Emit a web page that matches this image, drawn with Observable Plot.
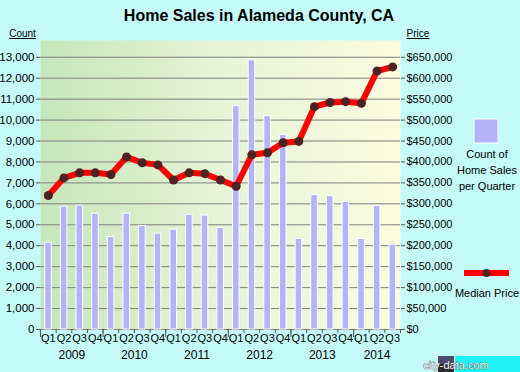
<!DOCTYPE html>
<html>
<head>
<meta charset="utf-8">
<script src="https://cdn.jsdelivr.net/npm/d3@7"></script>
<script src="https://cdn.jsdelivr.net/npm/@observablehq/plot@0.6"></script>
<style>
  html, body { margin: 0; padding: 0; background: #c5fafa; }
  #chart { width: 520px; height: 372px; overflow: hidden; }
  svg { display: block; }
</style>
</head>
<body>
<div id="chart"></div>
<script>
const quarters = ["Q1","Q2","Q3","Q4","Q1","Q2","Q3","Q4","Q1","Q2","Q3","Q4",
                  "Q1","Q2","Q3","Q4","Q1","Q2","Q3","Q4","Q1","Q2","Q3"];
const years = ["2009","2010","2011","2012","2013","2014"];
const counts = [4150, 5870, 5910, 5530, 4420, 5530, 4940, 4580, 4770, 5480, 5440, 4850,
                10660, 12860, 10190, 9280, 4320, 6420, 6370, 6090, 4320, 5900, 4050];
const prices = [320000, 362000, 374000, 374000, 370000, 412000, 398000, 393000, 357000, 374000, 372000, 357000,
                342000, 417000, 422000, 446000, 449000, 532000, 542000, 544000, 540000, 617000, 627000];
const countTicks = d3.range(0, 14000, 1000);
const priceFactor = 50; // right axis = left axis * 50

const data = quarters.map((q, i) => ({i, q, count: counts[i], price: prices[i]}));
const yearCenters = years.map((y, k) => k * 4 + Math.min(4, quarters.length - k * 4) / 2);

const fmt = d3.format(",");
const font = "'Liberation Sans', Arial, sans-serif";
const plot = Plot.plot({
  width: 520,
  height: 372,
  marginLeft: 40,
  marginRight: 120,
  marginTop: 40,
  marginBottom: 43,
  x: {domain: [0, quarters.length], axis: null},
  y: {domain: [0, 13800], axis: null},
  style: {background: "transparent", fontFamily: font, fontSize: "11px", color: "#000", overflow: "visible"},
  marks: [
    Plot.frame({fill: "url(#plotBg)", stroke: null}),
    Plot.gridY(countTicks.slice(1), {stroke: "#7f7f7f", strokeOpacity: 1, strokeWidth: 1}),
    Plot.ruleY([0], {stroke: "#7f7f7f"}),
    Plot.rectY(data, {x1: d => d.i + 0.3, x2: d => d.i + 0.72, y: "count", fill: "#b3b3fa", stroke: "#ffffff", strokeWidth: 1}),
    Plot.line(data, {x: d => d.i + 0.5, y: d => d.price / priceFactor, stroke: "#ff0000", strokeWidth: 6, strokeLinejoin: "round", strokeLinecap: "round"}),
    Plot.dot(data, {x: d => d.i + 0.5, y: d => d.price / priceFactor, r: 4.5, fill: "#4d2222", stroke: null}),
    Plot.axisY(countTicks, {anchor: "left", tickSize: 4, tickPadding: 2, stroke: "#555", fontSize: 11.5, tickFormat: d => fmt(d), label: null}),
    Plot.axisY(countTicks, {anchor: "right", tickSize: 4, tickPadding: 2, stroke: "#555", fontSize: 11, tickFormat: d => "$" + fmt(d * priceFactor), label: null}),
    Plot.axisX(d3.range(0, quarters.length + 1), {tickSize: 4, stroke: "#555", tickFormat: () => "", label: null}),
    Plot.axisX(d3.range(0, quarters.length, 4), {tickSize: 8, stroke: "#555", tickFormat: () => "", label: null}),
    Plot.axisX(data.map(d => d.i + 0.5), {tickSize: 0, tickPadding: 5, fontSize: 11, tickFormat: t => quarters[Math.floor(t)], label: null}),
    Plot.axisX(yearCenters, {tickSize: 0, tickPadding: 21, fontSize: 12, tickFormat: t => years[yearCenters.indexOf(t)], label: null})
  ]
});
document.getElementById("chart").appendChild(plot);

const svg = d3.select(plot);
const defs = svg.insert("defs", ":first-child");
const grad = defs.append("linearGradient").attr("id", "plotBg").attr("x1", "0").attr("x2", "1").attr("y1", "0").attr("y2", "0");
grad.append("stop").attr("offset", "0%").attr("stop-color", "#c5e6bb");
grad.append("stop").attr("offset", "50%").attr("stop-color", "#e6f4d6");
grad.append("stop").attr("offset", "100%").attr("stop-color", "#fbfbdf");

// Title
svg.append("text").attr("x", 259).attr("y", 21).attr("text-anchor", "middle")
  .attr("font-family", font).attr("font-size", 16).attr("font-weight", "bold").attr("fill", "#000")
  .text("Home Sales in Alameda County, CA");
// Axis headers
svg.append("text").attr("x", 22.5).attr("y", 37).attr("text-anchor", "middle")
  .attr("font-family", font).attr("font-size", 10).attr("text-decoration", "underline").text("Count");
svg.append("text").attr("x", 418).attr("y", 37).attr("text-anchor", "middle")
  .attr("font-family", font).attr("font-size", 10).attr("text-decoration", "underline").text("Price");

// Legend: count
svg.append("rect").attr("x", 474).attr("y", 119).attr("width", 24).attr("height", 24)
  .attr("fill", "#b3b3fa").attr("stroke", "#ffffff");
["Count of", "Home Sales", "per Quarter"].forEach((t, k) => {
  svg.append("text").attr("x", 487).attr("y", 158 + k * 16).attr("text-anchor", "middle")
    .attr("font-family", font).attr("font-size", 11).text(t);
});
// Legend: median price
svg.append("line").attr("x1", 464).attr("x2", 509).attr("y1", 273).attr("y2", 273)
  .attr("stroke", "#ff0000").attr("stroke-width", 6);
svg.append("circle").attr("cx", 486.5).attr("cy", 273).attr("r", 4).attr("fill", "#4d2222");
svg.append("text").attr("x", 487).attr("y", 297).attr("text-anchor", "middle")
  .attr("font-family", font).attr("font-size", 11).text("Median Price");

// Watermark
svg.append("rect").attr("x", 438).attr("y", 356).attr("width", 16).attr("height", 16).attr("fill", "#4a4a6a");
svg.append("rect").attr("x", 438).attr("y", 364).attr("width", 16).attr("height", 8).attr("fill", "#2a2a30");
svg.append("rect").attr("x", 455).attr("y", 356).attr("width", 65).attr("height", 16).attr("fill", "#1ef2f2");
svg.append("text").attr("x", 456).attr("y", 368.5).attr("font-family", font).attr("font-size", 11)
  .attr("fill", "#f4f4f4").attr("stroke", "#444").attr("stroke-width", 0.6).attr("paint-order", "stroke").text("city-data.com");
</script>
</body>
</html>
